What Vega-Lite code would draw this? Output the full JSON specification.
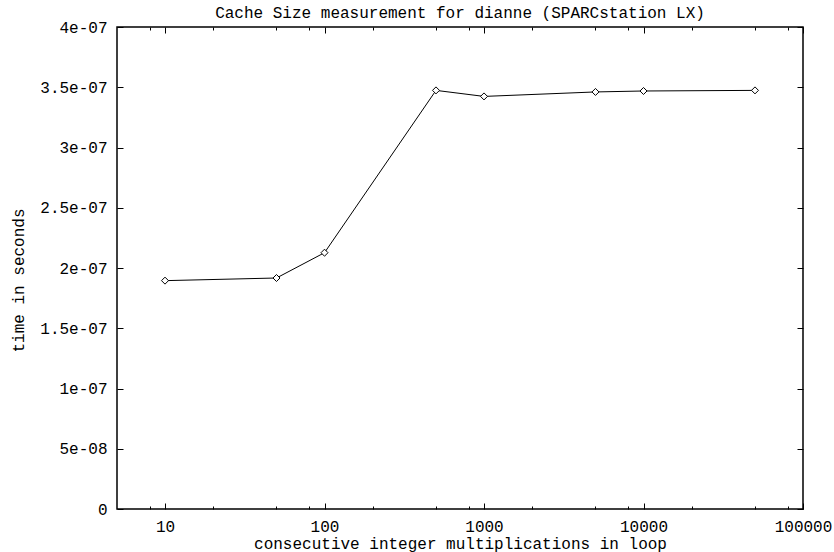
{
  "$schema": "https://vega.github.io/schema/vega-lite/v6.json",
  "width": 686,
  "height": 482,
  "autosize": "none",
  "padding": {"left": 117, "top": 27, "right": 31, "bottom": 43},
  "background": "white",
  "title": {
    "text": "Cache Size measurement for dianne (SPARCstation LX)",
    "font": "Liberation Mono",
    "fontSize": 16,
    "fontWeight": "normal",
    "color": "black",
    "anchor": "middle",
    "baseline": "alphabetic",
    "offset": -15
  },
  "data": {
    "values": [
      {"n": 10, "t": 1.895e-7},
      {"n": 50, "t": 1.917e-7},
      {"n": 100, "t": 2.127e-7},
      {"n": 500, "t": 3.474e-7},
      {"n": 1000, "t": 3.424e-7},
      {"n": 5000, "t": 3.461e-7},
      {"n": 10000, "t": 3.469e-7},
      {"n": 50000, "t": 3.474e-7}
    ]
  },
  "layer": [
    {
      "mark": {"type": "line", "color": "black", "strokeWidth": 1},
      "encoding": {
        "x": {"field": "n", "type": "quantitative", "scale": {"type": "log", "domain": [5, 100000], "nice": false},
          "axis": {"orient": "bottom", "values": [10, 100, 1000, 10000, 100000], "format": "d", "ticks": false, "domain": false,
            "labelPadding": 22, "labelBaseline": "alphabetic", "labelFlush": false, "labelOverlap": false,
            "title": "consecutive integer multiplications in loop", "titleY": 39, "titleBaseline": "alphabetic"}},
        "y": {"field": "t", "type": "quantitative", "scale": {"domain": [0, 4e-7], "nice": false, "zero": true},
          "axis": {"orient": "left", "values": [0, 5e-8, 1e-7, 1.5e-7, 2e-7, 2.5e-7, 3e-7, 3.5e-7, 4e-7],
            "labelExpr": "datum.value == 0 ? '0' : replace(format(datum.value, '~e'), 'e-', 'e-0')",
            "ticks": false, "domain": false, "labelPadding": 10, "labelFlush": false, "labelOverlap": false,
            "title": "time in seconds", "titleX": -99, "titleY": 253, "titleAngle": -90, "titleBaseline": "middle", "titleAlign": "center"}}
      }
    },
    {
      "mark": {"type": "point", "shape": "diamond", "size": 49, "filled": true, "fill": "white", "stroke": "black", "strokeWidth": 1, "opacity": 1},
      "encoding": {
        "x": {"field": "n", "type": "quantitative", "scale": {"type": "log", "domain": [5, 100000], "nice": false},
          "axis": {"orient": "bottom", "values": [10, 100, 1000, 10000, 100000], "labels": false, "ticks": true, "tickSize": -6, "domain": false, "title": null}},
        "y": {"field": "t", "type": "quantitative", "scale": {"domain": [0, 4e-7], "nice": false, "zero": true},
          "axis": {"orient": "left", "values": [0, 5e-8, 1e-7, 1.5e-7, 2e-7, 2.5e-7, 3e-7, 3.5e-7, 4e-7], "labels": false, "ticks": true, "tickSize": -6, "domain": false, "title": null}}
      }
    },
    {
      "mark": {"type": "point", "opacity": 0},
      "encoding": {
        "x": {"field": "n", "type": "quantitative", "scale": {"type": "log", "domain": [5, 100000], "nice": false},
          "axis": {"orient": "bottom", "values": [8, 20, 50, 80, 200, 500, 800, 2000, 5000, 8000, 20000, 50000, 80000], "labels": false, "ticks": true, "tickSize": -3, "domain": false, "title": null}},
        "y": {"field": "t", "type": "quantitative", "scale": {"domain": [0, 4e-7], "nice": false, "zero": true},
          "axis": {"orient": "right", "values": [0, 5e-8, 1e-7, 1.5e-7, 2e-7, 2.5e-7, 3e-7, 3.5e-7, 4e-7], "labels": false, "ticks": true, "tickSize": -6, "domain": false, "title": null}}
      }
    },
    {
      "mark": {"type": "point", "opacity": 0},
      "encoding": {
        "x": {"field": "n", "type": "quantitative", "scale": {"type": "log", "domain": [5, 100000], "nice": false},
          "axis": {"orient": "top", "values": [10, 100, 1000, 10000, 100000], "labels": false, "ticks": true, "tickSize": -6, "domain": false, "title": null}},
        "y": {"field": "t", "type": "quantitative", "scale": {"domain": [0, 4e-7], "nice": false, "zero": true}, "axis": null}
      }
    },
    {
      "mark": {"type": "point", "opacity": 0},
      "encoding": {
        "x": {"field": "n", "type": "quantitative", "scale": {"type": "log", "domain": [5, 100000], "nice": false},
          "axis": {"orient": "top", "values": [8, 20, 50, 80, 200, 500, 800, 2000, 5000, 8000, 20000, 50000, 80000], "labels": false, "ticks": true, "tickSize": -3, "domain": false, "title": null}},
        "y": {"field": "t", "type": "quantitative", "scale": {"domain": [0, 4e-7], "nice": false, "zero": true}, "axis": null}
      }
    }
  ],
  "resolve": {"axis": {"x": "independent", "y": "independent"}},
  "config": {
    "font": "Liberation Mono",
    "view": {"stroke": "black", "strokeWidth": 1.5},
    "axis": {
      "grid": false,
      "labelFont": "Liberation Mono",
      "labelFontSize": 16,
      "labelFontWeight": "normal",
      "labelColor": "black",
      "titleFont": "Liberation Mono",
      "titleFontSize": 16,
      "titleFontWeight": "normal",
      "titleColor": "black",
      "tickColor": "black",
      "tickWidth": 1
    }
  }
}
